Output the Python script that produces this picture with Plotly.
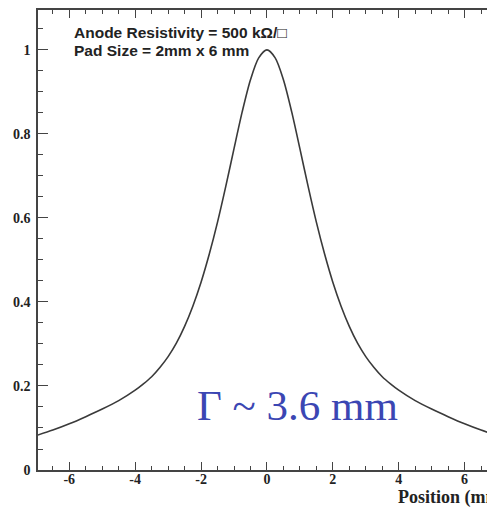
import plotly.graph_objects as go

# Data
position_mm = [-7.0, -6.5, -6.0, -5.5, -5.0, -4.5, -4.0, -3.75, -3.5, -3.25, -3.0,
               -2.75, -2.5, -2.25, -2.0, -1.75, -1.5, -1.25, -1.0, -0.75, -0.5, -0.25,
               0.0,
               0.25, 0.5, 0.75, 1.0, 1.25, 1.5, 1.75, 2.0, 2.25, 2.5, 2.75,
               3.0, 3.25, 3.5, 3.75, 4.0, 4.5, 5.0, 5.5, 6.0, 6.5, 7.0]
signal = [0.082, 0.095, 0.110, 0.127, 0.145, 0.165, 0.190, 0.205, 0.222, 0.244, 0.270,
          0.302, 0.342, 0.390, 0.447, 0.514, 0.590, 0.675, 0.765, 0.853, 0.929, 0.981,
          1.000,
          0.981, 0.929, 0.853, 0.765, 0.675, 0.590, 0.514, 0.447, 0.390, 0.342, 0.302,
          0.270, 0.244, 0.222, 0.205, 0.190, 0.165, 0.145, 0.127, 0.110, 0.095, 0.082]

x_tick_vals = [-6, -4, -2, 0, 2, 4, 6]
x_tick_text = ["-6", "-4", "-2", "0", "2", "4", "6"]
y_tick_vals = [0, 0.2, 0.4, 0.6, 0.8, 1]
y_tick_text = ["0", "0.2", "0.4", "0.6", "0.8", "1"]

fig = go.Figure()
fig.add_trace(go.Scatter(
    x=position_mm, y=signal, mode="lines",
    line=dict(color="#3a3a3a", width=1.6, shape="spline", smoothing=0.8),
    hoverinfo="skip", showlegend=False,
))

axis_color = "#444444"
tick_font = dict(family="Liberation Serif", size=14, color="#222222", weight="bold")

fig.update_layout(
    width=487, height=508,
    margin=dict(l=38, r=0, t=10, b=38),
    paper_bgcolor="white", plot_bgcolor="white",
    xaxis=dict(
        range=[-6.95, 6.68], showgrid=False, zeroline=False,
        showline=True, linecolor=axis_color, linewidth=1.5, mirror="ticks",
        ticks="inside", ticklen=8, tickwidth=1.2, tickcolor=axis_color,
        tickvals=x_tick_vals, ticktext=x_tick_text, tickfont=tick_font,
        ticklabelstandoff=-5,
        minor=dict(dtick=0.5, tick0=0, ticks="inside", ticklen=4,
                   tickwidth=1, tickcolor=axis_color, showgrid=False),
    ),
    yaxis=dict(
        range=[0, 1.095], showgrid=False, zeroline=False,
        showline=True, linecolor=axis_color, linewidth=1.5, mirror=False,
        ticks="inside", ticklen=10, tickwidth=1.2, tickcolor=axis_color,
        tickvals=y_tick_vals, ticktext=y_tick_text, tickfont=tick_font,
        ticklabelstandoff=3,
        minor=dict(dtick=0.05, tick0=0, ticks="inside", ticklen=5,
                   tickwidth=1, tickcolor=axis_color, showgrid=False),
    ),
    annotations=[
        dict(xref="paper", yref="paper", x=0.0757, y=0.952, xanchor="left", yanchor="middle",
             text="<b>Anode Resistivity = 500 kΩ/□</b>", showarrow=False,
             font=dict(family="Liberation Sans", size=15.5, color="#222222")),
        dict(xref="paper", yref="paper", x=0.0757, y=0.913, xanchor="left", yanchor="middle",
             text="<b>Pad Size = 2mm x 6 mm</b>", showarrow=False,
             font=dict(family="Liberation Sans", size=15.5, color="#222222")),
        dict(xref="paper", yref="paper", x=0.350, y=0.141, xanchor="left", yanchor="middle",
             text="Γ ~ 3.6 mm", showarrow=False,
             font=dict(family="Liberation Serif", size=43, color="#3b46b3")),
        dict(xref="paper", yref="paper", x=0.797, y=-0.0587, xanchor="left", yanchor="middle",
             text="<b>Position (mm)</b>", showarrow=False,
             font=dict(family="Liberation Serif", size=18, color="#222222")),
    ],
)

fig.write_html("out.html")
